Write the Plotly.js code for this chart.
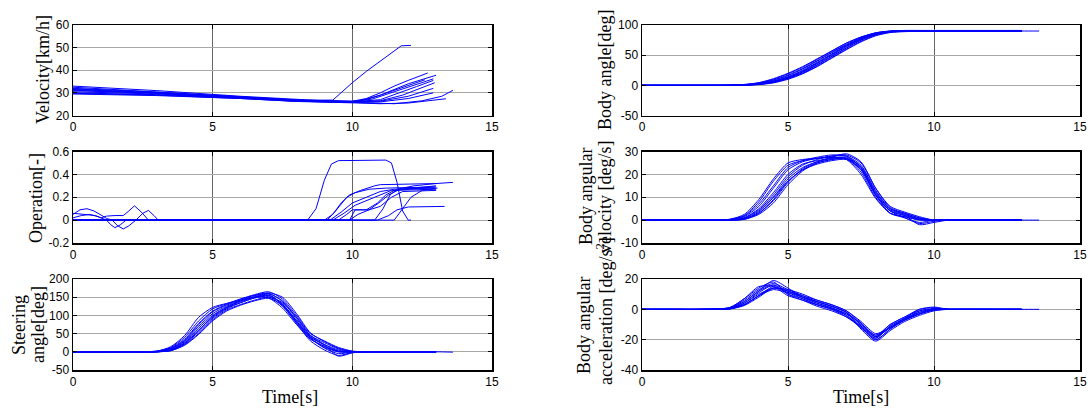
<!DOCTYPE html>
<html><head><meta charset="utf-8">
<script src="https://cdn.plot.ly/plotly-3.0.1.min.js"></script>
<style>html,body{margin:0;padding:0;background:#fff;}#chart{width:1090px;height:412px;}</style>
</head><body><div id="chart"></div>
<script>
// ---------- DATA ----------
// Velocity [km/h] per trial (own time samples)
const velocityTimes = [
  [0,3,6,8,9.3,10,10.5,11,11.5,11.75,12.1],
  [0,3,6,8,9,10,10.5,11,11.5,12,12.7],
  [0,3,6,8,9,10,10.5,11,11.5,12,13],
  [0,3,6,8,10,10.7,11.5,12.2,12.9],
  [0,3,6,8,10,11,11.7,12.3,12.9],
  [0,3,6,8,10,11,11.8,12.4,12.95],
  [0,3,6,8,10,11,12,12.9],
  [0,3,6,8,10,11,12,12.9],
  [0,3,6,8,10,11,11.5,12.5,13.2,13.6],
  [0,3,6,8,10,11,12,13.35],
  [0,3,6,8,10,10.3,11,11.8,12.6]
];
const velocityValues = [
  [31.5,30,28,26.8,26.8,34.5,39.5,44,48.5,50.8,51],
  [33,31,28.5,27,26.5,26.3,27.5,30,33,35.5,38.8],
  [32.5,30.5,28.3,26.8,26.3,26.2,27,29,31.5,34,37.8],
  [32,30.3,28.2,26.8,26.3,27.2,30.5,33.5,36.2],
  [31.8,30,28,26.6,26,27,30,32.8,35.5],
  [31,29.8,28,26.5,26.2,26.5,29,32,34.5],
  [30.5,29.5,27.8,26.5,26,26.3,28.5,32],
  [30,29.2,27.8,26.3,25.8,26,27.5,30],
  [29.8,29,27.5,26.3,25.8,25.5,25.2,26.5,28.5,31.1],
  [29.5,28.8,27.5,26.2,25.6,25.2,25.5,27.4],
  [31.2,29.9,28.1,26.7,26.1,26.6,29,32.5,35.8]
];
// Operation [-] per trial
const operationTimes = [
  [0,8.4,8.7,9.0,9.25,9.5,11.2,11.4,11.6,11.8,12.0,12.1],
  [0,0.25,0.5,0.75,1.0,1.2,1.4,9.0,9.3,9.6,9.9,10.3,10.8,11.0,13.05],
  [0,0.4,0.8,1.0,1.2,1.5,1.8,2.0,2.2,2.45,2.7,9.1,9.4,9.8,10.1,10.6,11.2,13.0],
  [0,0.3,0.6,0.9,1.2,1.35,1.5,1.7,1.9,9.2,9.6,10,10.5,11,11.5,13.05],
  [0,1.4,1.6,1.8,2.0,2.25,2.5,2.7,2.9,3.05,9.3,9.7,10.1,10.6,11.0,11.4,13.0],
  [0,9.9,10.2,10.6,11.0,11.4,11.8,13.0],
  [0,9.9,10.1,10.6,11.0,11.3,11.7,13.0],
  [0,10.8,11.1,11.35,11.6,12.2,13.0,13.6],
  [0,10.9,11.3,11.6,12.0,13.3],
  [0,11.5,11.8,12.1,12.5,13.0],
  [0,9.5,9.8,10.0,10.5,10.9,11.2,11.5,12.95]
];
const operationValues = [
  [0,0,0.1,0.35,0.49,0.52,0.525,0.5,0.33,0.08,0,0],
  [0.05,0.09,0.1,0.08,0.045,0.015,0,0,0.05,0.15,0.22,0.26,0.3,0.31,0.32],
  [0.06,0.05,0.04,0.02,0.035,0.04,0.04,0.08,0.125,0.07,0,0,0.08,0.2,0.24,0.27,0.28,0.29],
  [0.02,0.04,0.05,0.03,0,-0.04,-0.066,-0.04,0,0,0.07,0.15,0.2,0.25,0.27,0.28],
  [0,0,-0.05,-0.077,-0.05,0,0.06,0.085,0.04,0,0,0.06,0.13,0.18,0.22,0.26,0.27],
  [0,0,0.05,0.09,0.12,0.2,0.25,0.26],
  [0,0,0.09,0.09,0.16,0.22,0.27,0.3],
  [0,0,0.1,0.22,0.27,0.3,0.32,0.33],
  [0,0,0.04,0.09,0.115,0.12],
  [0,0,0.1,0.2,0.26,0.28],
  [0,0,0.05,0.09,0.09,0.15,0.22,0.26,0.29]
];
// Shared time samples [s] for steering / body signals
const sampleTimes = [0,1,2,3,3.5,4,4.5,5,5.5,6,6.5,7,7.5,8,8.5,9,9.5,10,10.5,11,12,13,13.6];
// Steering angle [deg]
const steeringAngle = [
  [0,0,0,1,8,30,70,105,125,140,150,155,130,85,40,20,5,0,0,0,0,0],
  [0,0,0,0,5,25,60,95,120,135,148,152,125,80,35,15,0,-1,0,0,0,0],
  [-1,-1,0,0,3,20,50,88,115,130,142,150,135,95,45,20,2,0,0,0,0,0],
  [0,0,0,2,12,40,85,118,132,145,155,160,140,95,45,25,8,1,0,0,0,0],
  [0,0,0,1,10,35,78,112,130,145,157,165,145,100,50,30,12,2,0,0,0,0,-1],
  [0,0,0,0,6,28,65,100,122,138,150,158,128,78,30,5,-10,-2,0,0,0,0],
  [0,0,0,0,4,22,55,92,118,135,148,155,132,85,38,10,-5,-1,0,0,0,0],
  [0,0,0,1,9,32,75,110,128,142,155,162,150,105,52,28,10,1,0,0,0,0],
  [0,0,0,0,5,24,58,98,122,140,152,160,138,90,42,18,-12,-3,0,0,0,0],
  [0,0,0,2,14,45,95,122,133,142,150,148,120,75,35,15,2,0,0,0,0,0],
  [0,0,0,0,3,18,48,85,112,128,140,147,128,82,38,12,0,0,0,0,0]
];
// Body angle [deg]
const bodyAngle = [
  [0,0,0,0,0.5,2,6,13,23,36,50,64,76,85,89,90,90,90,90,90,90,90],
  [0,0,0,0.2,1,3.5,9,17,28,41,55,68,79,87,90,91,91,91,91,91,91,91],
  [0,0,0,0,0.3,1.5,5,11,20,32,46,60,73,83,88,89.5,89.5,89.5,89.5,89.5,89.5,89.5],
  [0,0,0,0.2,1,3,8,16,27,40,54,67,78,86,89.5,90.5,90.5,90.5,90.5,90.5,90.5,90.5],
  [0,0,0,0,0.5,2.5,7,14,25,38,52,66,77,86,89.5,90,90,90,90,90,90,90,90],
  [0,0,0,0,0.4,2,5.5,12,22,34,48,62,75,84,88.5,89.5,89.5,89.5,89.5,89.5,89.5,89.5],
  [0,0,0,0.3,1.2,4,10,19,30,43,57,70,80,87,90,90.5,90.5,90.5,90.5,90.5,90.5,90.5],
  [0,0,0,0,0.3,1.8,5,12,21,34,48,62,75,84,89,90,90,90,90,90,90,90],
  [0,0,0,0,0.5,2.2,6.5,14,24,37,51,65,77,85.5,89,90,90,90,90,90,90,90],
  [0,0,0,0.3,1.5,4.5,11,20,31,44,57,70,80,86.5,89.5,90,90,90,90,90,90,90],
  [0,0,0,0,0.2,1.2,4,10,19,31,45,59,72,82,87.5,89,89.5,89.5,89.5,89.5,89.5]
];
// Body angular velocity [deg/s]
const angularVelocity = [
  [0,0,0,0,0.5,3,9,17,22,25,26.5,27,22,11,4,2,0.5,0,0,0,0,0],
  [0,0,0,0.2,1.5,6,14,22,25.5,27,28,28,24,13,5,3,1,0,0,0,0,0],
  [0,0,0,0,0.5,3.5,10,18,23,25.5,27,27.5,23,11,3,1,-1.5,-0.5,0,0,0,0],
  [0,0,0,0.3,2,8,17,24,26,27,27.5,27,21,10,3,1.5,0,0,0,0,0,0],
  [0,0,0,0,1,4.5,11,19,24,26.5,28,28.5,25,14,6,3.5,1.5,0,0,0,0,0,0],
  [0,0,0,0,0.7,4,10,17,22,24.5,26,26.5,22,11,4,2,-2,-1,0,0,0,0],
  [0,0,0,0.2,1.8,7,15,23,26,27.5,28.5,28,23,12,5,2.5,0.5,0,0,0,0,0],
  [0,0,0,0,0.4,3,8.5,16.5,22.5,25.5,27.5,29,25.5,14,5.5,3,1,0,0,0,0,0],
  [0,0,0,0,1,5,12,20,24.5,26,27,27,22.5,11.5,4,1,-1,0,0,0,0,0],
  [0,0,0,0.4,2.5,9,18,25,26.5,27,27.5,26.5,20,9.5,3,1.5,0.2,0,0,0,0,0],
  [0,0,0,0,0.3,2.5,7.5,15.5,21.5,25,26.5,27,23.5,12.5,4.5,2.5,0.5,0,0,0,0]
];
// Body angular acceleration [deg/s^2]
const angularAcceleration = [
  [0,0,0,0.5,4,11,16,12,8,4,1,-3,-11,-19,-11,-6,-2,0,0,0,0,0],
  [0,0,0,1,6,13,17,13,9,5,2,-2,-10,-18,-12,-7,-3,0.5,0,0,0,0],
  [0,0,0,0.3,3,9,15,11,7,3,0,-4,-12,-20,-13,-7,-1,0,0,0,0,0],
  [0,0,0,1,7,14,18,10,6,3,0.5,-3,-9,-17,-10,-5,0,1,0,0,0,0],
  [0,0,0,0.5,4,10,14,13,10,6,3,-1,-9,-18,-12,-6,-3,-0.5,0,0,0,0,0],
  [0,0,0,0.5,3,9,13,11,8,5,2,-2,-13,-21,-14,-8,-4,-1,0,0,0,0],
  [0,0,0,1,5,12,19,14,8,4,1,-4,-12,-19,-11,-6,-2,0.5,0,0,0,0],
  [0,0,0,0.2,2.5,8,14,12,9,6,3,-1,-8,-16,-12,-7,-3,0,0,0,0,0],
  [0,0,0,0.8,5,12,16,10,7,3,0,-5,-12,-20,-13,-6,0,1.5,0,0,0,0],
  [0,0,0,1.2,7,15,15,9,6,2,-1,-5,-11,-18,-10,-5,-1,0.5,0,0,0,0],
  [0,0,0,0.3,3,9,14,12,8,5,2,-2,-10,-17,-12,-7,-3,-0.5,0,0,0]
];
// Tick labels
const xTickVals = [0,5,10,15];
const xTickText = ['0','5','10','15'];
const velTicks = [20,30,40,50,60];
const opTicks = [-0.2,0,0.2,0.4,0.6];
const opTickText = ['-0.2','0','0.2','0.4','0.6'];
const steerTicks = [-50,0,50,100,150,200];
const steerTickText = ['-50','0','50','100','150','200'];
const angTicks = [-50,0,50,100];
const angTickText = ['-50','0','50','100'];
const velAngTicks = [-10,0,10,20,30];
const velAngTickText = ['-10','0','10','20','30'];
const accTicks = [-40,-20,0,20];
const accTickText = ['-40','-20','0','20'];

// ---------- TRACES ----------
const BLUE = '#0000ff';
const traces = [];
function addPaired(times, vals, ax) {
  vals.forEach((v, i) => traces.push({x: times[i], y: v, xaxis: 'x' + ax, yaxis: 'y' + ax,
    type: 'scatter', mode: 'lines', hoverinfo: 'skip', showlegend: false,
    line: {color: BLUE, width: 1}}));
}
function addShared(vals, ax) {
  vals.forEach(v => traces.push({x: sampleTimes.slice(0, v.length), y: v, xaxis: 'x' + ax, yaxis: 'y' + ax,
    type: 'scatter', mode: 'lines', hoverinfo: 'skip', showlegend: false,
    line: {color: BLUE, width: 1, shape: 'spline', smoothing: 0.7}}));
}
addPaired(velocityTimes, velocityValues, '');
addPaired(operationTimes, operationValues, '2');
addShared(steeringAngle, '3');
addShared(bodyAngle, '4');
addShared(angularVelocity, '5');
addShared(angularAcceleration, '6');

// ---------- LAYOUT ----------
const W = 1090, H = 412;
const px = v => v / W, py = v => 1 - v / H;
const colL = [px(73), px(492)], colR = [px(642), px(1080)];
const row1 = [py(115.5), py(25)], row2 = [py(243), py(151.5)], row3 = [py(370), py(279)];
const tickFont = {family: 'Liberation Sans, Arial, sans-serif', size: 12, color: '#000'};
function xa(dom, anchor) {
  return {domain: dom, anchor: anchor, range: [0, 15], tickvals: xTickVals, ticktext: xTickText,
    ticks: 'inside', ticklen: 4, tickcolor: '#000', showline: true, linecolor: '#000', linewidth: 1.5,
    mirror: 'ticks', showgrid: true, gridcolor: '#666', gridwidth: 1, zeroline: false,
    tickfont: tickFont, fixedrange: true};
}
function ya(dom, anchor, range, vals, text) {
  return {domain: dom, anchor: anchor, range: range, tickvals: vals, ticktext: text || vals.map(String),
    ticks: 'inside', ticklen: 4, tickcolor: '#000', showline: true, linecolor: '#000', linewidth: 1.5,
    mirror: 'ticks', showgrid: true, gridcolor: '#a8a8a8', gridwidth: 1, zeroline: false,
    tickfont: tickFont, fixedrange: true};
}
const serif = {family: 'Liberation Serif, Times New Roman, serif', size: 18, color: '#000'};
function lab(text, x, y, rot) {
  return {text: text, xref: 'paper', yref: 'paper', x: px(x), y: py(y), showarrow: false,
    textangle: rot === undefined ? -90 : rot, font: serif, xanchor: 'center', yanchor: 'middle'};
}
const layout = {
  width: W, height: H, margin: {l: 0, r: 0, t: 0, b: 0},
  paper_bgcolor: '#fff', plot_bgcolor: '#fff', showlegend: false,
  xaxis: xa(colL, 'y'), yaxis: ya(row1, 'x', [20, 60], velTicks),
  xaxis2: xa(colL, 'y2'), yaxis2: ya(row2, 'x2', [-0.2, 0.6], opTicks, opTickText),
  xaxis3: xa(colL, 'y3'), yaxis3: ya(row3, 'x3', [-50, 200], steerTicks, steerTickText),
  xaxis4: xa(colR, 'y4'), yaxis4: ya(row1, 'x4', [-50, 100], angTicks, angTickText),
  xaxis5: xa(colR, 'y5'), yaxis5: ya(row2, 'x5', [-10, 30], velAngTicks, velAngTickText),
  xaxis6: xa(colR, 'y6'), yaxis6: ya(row3, 'x6', [-40, 20], accTicks, accTickText),
  annotations: [
    lab('Velocity[km/h]', 43, 70),
    lab('Operation[-]', 36, 198),
    lab('Steering', 19, 325),
    lab('angle[deg]', 38, 325),
    lab('Time[s]', 290, 397, 0),
    lab('Body angle[deg]', 605, 70),
    lab('Body angular', 586, 197),
    lab('velocity [deg/s]', 605, 197),
    lab('Body angular', 584, 326),
    lab('acceleration [deg/s<sup>2</sup>]', 604, 311),
    lab('Time[s]', 861, 397, 0)
  ]
};
Plotly.newPlot('chart', traces, layout, {staticPlot: true, displayModeBar: false});
</script>
</body></html>
